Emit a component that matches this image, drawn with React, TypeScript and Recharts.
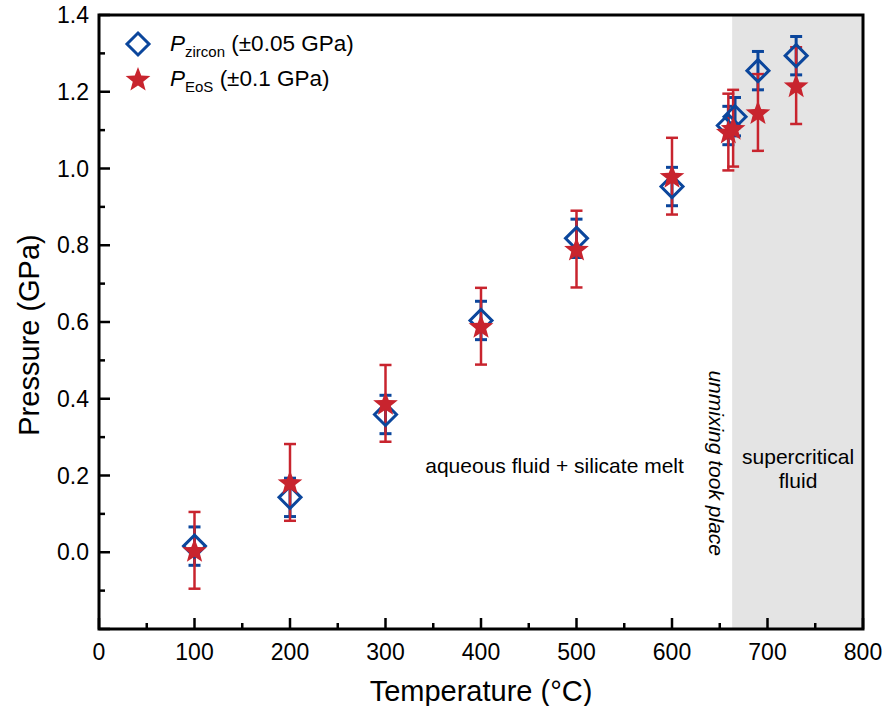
import React from "react";
import {
  ScatterChart, Scatter, XAxis, YAxis, ErrorBar, ReferenceArea, ReferenceDot,
} from "recharts";

const zirconT = [100, 200, 300, 400, 500, 600, 659, 666, 690, 730];
const zirconP = [0.016, 0.143, 0.359, 0.604, 0.818, 0.953, 1.112, 1.135, 1.255, 1.294];
const zirconErr = 0.05;

const eosT = [100, 200, 300, 400, 500, 600, 659, 664, 690, 730];
const eosP = [0.005, 0.182, 0.388, 0.589, 0.79, 0.98, 1.095, 1.105, 1.146, 1.216];
const eosErr = 0.1;

const xTicks = [0, 50, 100, 150, 200, 250, 300, 350, 400, 450, 500, 550, 600, 650, 700, 750, 800];
const xLabels = [0, 100, 200, 300, 400, 500, 600, 700, 800];
const yTicks = [-0.2, -0.1, 0, 0.1, 0.2, 0.3, 0.4, 0.5, 0.6, 0.7, 0.8, 0.9, 1.0, 1.1, 1.2, 1.3, 1.4];
const yLabels = [0, 0.2, 0.4, 0.6, 0.8, 1.0, 1.2, 1.4];

const supercriticalStart = 663;

const BLUE = "#0b469c";
const RED = "#c8242e";
const FONT = "'Liberation Sans', Arial, sans-serif";

const zircon = zirconT.map((t, i) => ({ t, p: zirconP[i], err: zirconErr }));
const eos = eosT.map((t, i) => ({ t, p: eosP[i], err: eosErr }));

function starPath(cx: number, cy: number, R: number, r: number) {
  let d = "";
  for (let i = 0; i < 10; i++) {
    const rad = i % 2 === 0 ? R : r;
    const a = -Math.PI / 2 + (i * Math.PI) / 5;
    d += (i === 0 ? "M" : "L") + (cx + rad * Math.cos(a)).toFixed(2) + "," + (cy + rad * Math.sin(a)).toFixed(2);
  }
  return d + "Z";
}

const Diamond = (props: any) => {
  const { cx, cy } = props;
  const h = 11;
  return (
    <path
      d={`M${cx},${cy - h}L${cx + h},${cy}L${cx},${cy + h}L${cx - h},${cy}Z`}
      fill="none" stroke={BLUE} strokeWidth={3}
    />
  );
};

const Star = (props: any) => {
  const { cx, cy } = props;
  return <path d={starPath(cx, cy + 1, 13, 5.5)} fill={RED} />;
};

const XTick = (props: any) => {
  const { x, y, payload } = props;
  const v = payload.value;
  const major = xLabels.includes(v);
  return (
    <g>
      <line x1={x} x2={x} y1={y} y2={y - (major ? 11 : 6)} stroke="#000" strokeWidth={2.5} />
      {major && (
        <text x={x} y={y + 23} textAnchor="middle" dominantBaseline="central" fontSize={23} fontFamily={FONT} fill="#000">
          {v}
        </text>
      )}
    </g>
  );
};

const YTick = (props: any) => {
  const { x, y, payload } = props;
  const v = payload.value;
  const major = yLabels.some((l) => Math.abs(l - v) < 1e-6);
  const edge = Math.abs(v - 0.2 * Math.round(v / 0.2)) < 1e-6;
  return (
    <g>
      <line x1={x} x2={x + (edge ? 11 : 6)} y1={y} y2={y} stroke="#000" strokeWidth={2.5} />
      {major && (
        <text x={x - 10} y={y} textAnchor="end" dominantBaseline="central" fontSize={23} fontFamily={FONT} fill="#000">
          {v.toFixed(1)}
        </text>
      )}
    </g>
  );
};

const textLabel = (lines: string[], opts: { rotate?: boolean; italic?: boolean } = {}) => (p: any) => {
  const { cx, cy } = p;
  if (opts.rotate) {
    return (
      <text x={cx} y={cy} transform={`rotate(90 ${cx} ${cy})`} textAnchor="middle" dominantBaseline="central"
        fontSize={21} fontFamily={FONT} fontStyle={opts.italic ? "italic" : "normal"} fill="#000">
        {lines[0]}
      </text>
    );
  }
  return (
    <text x={cx} y={cy} textAnchor="middle" fontSize={21} fontFamily={FONT} fill="#000">
      {lines.map((l, i) => (
        <tspan key={i} x={cx} dy={i === 0 ? 7 - ((lines.length - 1) * 24) / 2 : 24}>{l}</tspan>
      ))}
    </text>
  );
};

const LegendBox = () => (
  <div style={{ position: "absolute", left: 123, top: 26, fontFamily: FONT, fontSize: 22.5, color: "#000", lineHeight: "35px" }}>
    <div style={{ display: "flex", alignItems: "center", height: 35 }}>
      <svg width={30} height={30} style={{ marginRight: 17 }}>
        <path d="M15,4L26,15L15,26L4,15Z" fill="none" stroke={BLUE} strokeWidth={3} />
      </svg>
      <span><i>P</i><sub style={{ fontSize: 15, lineHeight: 0 }}>zircon</sub> (±0.05 GPa)</span>
    </div>
    <div style={{ display: "flex", alignItems: "center", height: 35 }}>
      <svg width={30} height={30} style={{ marginRight: 17 }}>
        <path d={starPath(15, 16, 13, 5.5)} fill={RED} />
      </svg>
      <span><i>P</i><sub style={{ fontSize: 15, lineHeight: 0 }}>EoS</sub> (±0.1 GPa)</span>
    </div>
  </div>
);

export default function App() {
  return (
    <div style={{ position: "absolute", left: 0, top: 0, width: 887, height: 706, background: "#fff" }}>
      <ScatterChart width={887} height={706} margin={{ top: 15, right: 24, bottom: 0, left: 0 }}>
        <XAxis
          type="number" dataKey="t" domain={[0, 800]} ticks={xTicks} interval={0}
          height={77} tickSize={0} tickMargin={0} tick={<XTick />} axisLine={false}
          label={(p: any) => {
            const vb = p.viewBox;
            return (
              <text x={vb.x + vb.width / 2} y={vb.y + 62} textAnchor="middle" dominantBaseline="central"
                fontSize={29} fontFamily={FONT} fill="#000">Temperature (°C)</text>
            );
          }}
        />
        <YAxis
          type="number" dataKey="p" domain={[-0.2, 1.4]} ticks={yTicks} interval={0}
          width={99} tickSize={0} tickMargin={0} tick={<YTick />} axisLine={false}
          label={(p: any) => {
            const vb = p.viewBox;
            const cx = 29;
            const cy = vb.y + vb.height / 2 + 13;
            return (
              <text x={cx} y={cy} transform={`rotate(-90 ${cx} ${cy})`} textAnchor="middle" dominantBaseline="central"
                fontSize={29} fontFamily={FONT} fill="#000">Pressure (GPa)</text>
            );
          }}
        />
        <ReferenceArea x1={supercriticalStart} x2={800} y1={-0.2} y2={1.4} fill="#e4e4e4" fillOpacity={1} stroke="none" />
        <ReferenceArea x1={0} x2={800} y1={-0.2} y2={1.4} fill="none" stroke="#000" strokeWidth={3} />
        <ReferenceDot x={477} y={0.224} r={0} shape={textLabel(["aqueous fluid + silicate melt"])} />
        <ReferenceDot x={732} y={0.216} r={0} shape={textLabel(["supercritical", "fluid"])} />
        <ReferenceDot x={647} y={0.232} r={0} shape={textLabel(["unmixing took place"], { rotate: true, italic: true })} />
        <Scatter name="zircon" data={zircon} shape={<Diamond />} isAnimationActive={false}>
          <ErrorBar dataKey="err" direction="y" width={6} stroke={BLUE} strokeWidth={3} />
        </Scatter>
        <Scatter name="eos" data={eos} shape={<Star />} isAnimationActive={false}>
          <ErrorBar dataKey="err" direction="y" width={6} stroke={RED} strokeWidth={2.5} />
        </Scatter>
      </ScatterChart>
      <LegendBox />
    </div>
  );
}
